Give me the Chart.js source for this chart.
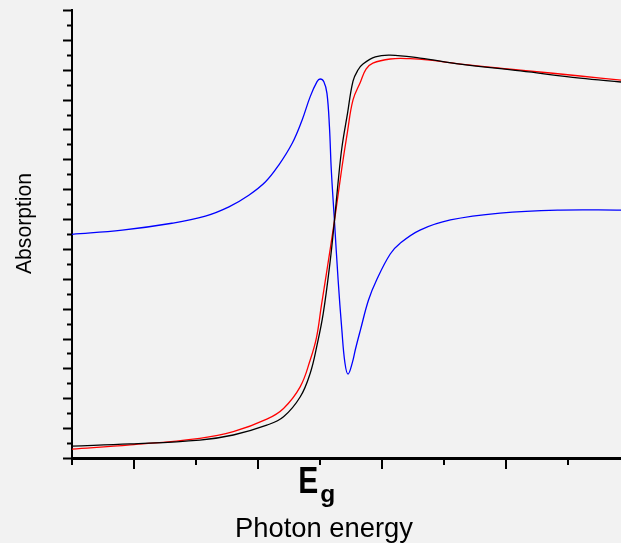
<!DOCTYPE html>
<html>
<head>
<meta charset="utf-8">
<script src="https://cdn.jsdelivr.net/npm/chart.js@4/dist/chart.umd.min.js"></script>
<style>
  html, body { margin: 0; padding: 0; background: #f2f2f2; }
  #c { display: block; }
</style>
</head>
<body>
<canvas id="c" width="621" height="543"></canvas>
<script>
// ---- data (x: photon energy in tick units, Eg at 4; y: absorption, arbitrary units) ----
const blackX = [0, 0.94, 2.06, 2.60, 3.14, 3.41, 3.68, 3.84, 3.95, 4.05, 4.16, 4.23, 4.29, 4.35, 4.44, 4.53, 4.61, 4.69, 4.89, 5.13, 5.61, 6.26, 7.23, 8.19, 8.85];
const blackY = [0.40, 0.47, 0.60, 0.77, 1.10, 1.38, 2.05, 2.84, 3.78, 4.84, 6.56, 7.93, 9.24, 10.38, 11.52, 12.62, 12.99, 13.19, 13.43, 13.49, 13.39, 13.19, 12.96, 12.72, 12.59];

const redX = [0, 0.94, 2.06, 2.60, 3.14, 3.41, 3.68, 3.84, 3.94, 4.02, 4.11, 4.23, 4.35, 4.44, 4.53, 4.65, 4.74, 4.85, 5.13, 5.45, 5.77, 6.26, 7.23, 8.19, 8.85];
const redY = [0.30, 0.44, 0.66, 0.88, 1.30, 1.66, 2.39, 3.28, 4.02, 5.10, 6.29, 7.93, 9.71, 10.91, 11.99, 12.59, 13.02, 13.22, 13.36, 13.37, 13.32, 13.19, 12.99, 12.79, 12.65];

const blueX = [0, 0.81, 1.61, 2.15, 2.53, 2.85, 3.12, 3.33, 3.55, 3.71, 3.84, 3.95, 4.00, 4.06, 4.11, 4.15, 4.18, 4.23, 4.29, 4.35, 4.40, 4.45, 4.52, 4.57, 4.65, 4.78, 4.91, 5.13, 5.29, 5.61, 6.10, 6.90, 7.87, 8.85];
const blueY = [7.49, 7.63, 7.86, 8.10, 8.41, 8.80, 9.25, 9.80, 10.54, 11.32, 12.10, 12.60, 12.69, 12.60, 12.21, 11.09, 9.64, 7.97, 5.96, 4.29, 3.18, 2.81, 3.20, 3.65, 4.29, 5.29, 5.96, 6.83, 7.19, 7.63, 7.97, 8.20, 8.30, 8.30];

const xTickValues = [0, 1, 2, 3, 4, 5, 6, 7, 8];
const xLongTicks = [1, 3, 5, 7];
const egTick = 4;
const xLabelMain = 'E';
const xLabelSub = 'g';
const xTitle = 'Photon energy';
const yTitle = 'Absorption';
const xRange = [0, 8.85];
const yRange = [0, 15];

function pts(xs, ys) { return xs.map((x, i) => ({ x: x, y: ys[i] })); }

const tickPlugin = {
  id: 'customTicks',
  afterDraw(chart) {
    const ctx = chart.ctx;
    const xs = chart.scales.x, ys = chart.scales.y;
    const area = chart.chartArea;
    ctx.save();
    ctx.strokeStyle = '#000';
    // x ticks
    ctx.lineWidth = 2;
    xTickValues.forEach(v => {
      const px = Math.round(xs.getPixelForValue(v));
      const len = xLongTicks.includes(v) ? 11 : 7;
      ctx.beginPath();
      ctx.moveTo(px, area.bottom);
      ctx.lineTo(px, area.bottom + len);
      ctx.stroke();
    });
    // y ticks
    for (let v = yRange[0]; v <= yRange[1] + 1e-9; v += 0.5) {
      const py = Math.round(ys.getPixelForValue(v)) + 0.5;
      const major = Math.abs(v - Math.round(v)) < 1e-6;
      ctx.lineWidth = 2;
      ctx.beginPath();
      ctx.moveTo(area.left, py);
      ctx.lineTo(area.left - (major ? 9 : 5), py);
      ctx.stroke();
    }
    // texts
    ctx.fillStyle = '#000';
    ctx.textBaseline = 'alphabetic';
    const egX = xs.getPixelForValue(egTick);
    function fitText(text, font, left, baseline, width) {
      ctx.font = font;
      const w = ctx.measureText(text).width;
      ctx.save();
      ctx.translate(left, baseline);
      ctx.scale(width / w, 1);
      ctx.textAlign = 'left';
      ctx.fillText(text, 0, 0);
      ctx.restore();
    }
    fitText(xLabelMain, 'bold 36px "Liberation Sans", Arial, sans-serif', egX - 22, 493, 20);
    fitText(xLabelSub, 'bold 23px "Liberation Sans", Arial, sans-serif', egX, 502, 15);
    fitText(xTitle, '28px "Liberation Sans", Arial, sans-serif', 235, 537, 178);
    // y title, rotated
    ctx.save();
    ctx.translate(31, 274);
    ctx.rotate(-Math.PI / 2);
    fitText(yTitle, '22px "Liberation Sans", Arial, sans-serif', 0, 0, 101);
    ctx.restore();
    ctx.restore();
  }
};

new Chart(document.getElementById('c'), {
  type: 'line',
  data: {
    datasets: [
      { label: 'black', data: pts(blackX, blackY), borderColor: '#000000', order: 1 },
      { label: 'red', data: pts(redX, redY), borderColor: '#ff0000', order: 2 },
      { label: 'blue', data: pts(blueX, blueY), borderColor: '#0000ff', order: 3 }
    ]
  },
  options: {
    responsive: false,
    animation: false,
    devicePixelRatio: 1,
    layout: { padding: { top: 10, right: 0, left: 0, bottom: 0 } },
    elements: {
      line: { borderWidth: 1.3, tension: 0.4, fill: false },
      point: { radius: 0 }
    },
    plugins: { legend: { display: false }, tooltip: { enabled: false }, title: { display: false } },
    scales: {
      x: {
        type: 'linear', min: xRange[0], max: xRange[1],
        grid: { display: false, drawTicks: false },
        border: { display: true, color: '#000', width: 3 },
        ticks: { display: false },
        afterFit(scale) { scale.height = 85; }
      },
      y: {
        type: 'linear', min: yRange[0], max: yRange[1],
        grid: { display: false, drawTicks: false },
        border: { display: true, color: '#000', width: 2 },
        ticks: { display: false },
        afterFit(scale) { scale.width = 72; }
      }
    }
  },
  plugins: [tickPlugin]
});
</script>
</body>
</html>
